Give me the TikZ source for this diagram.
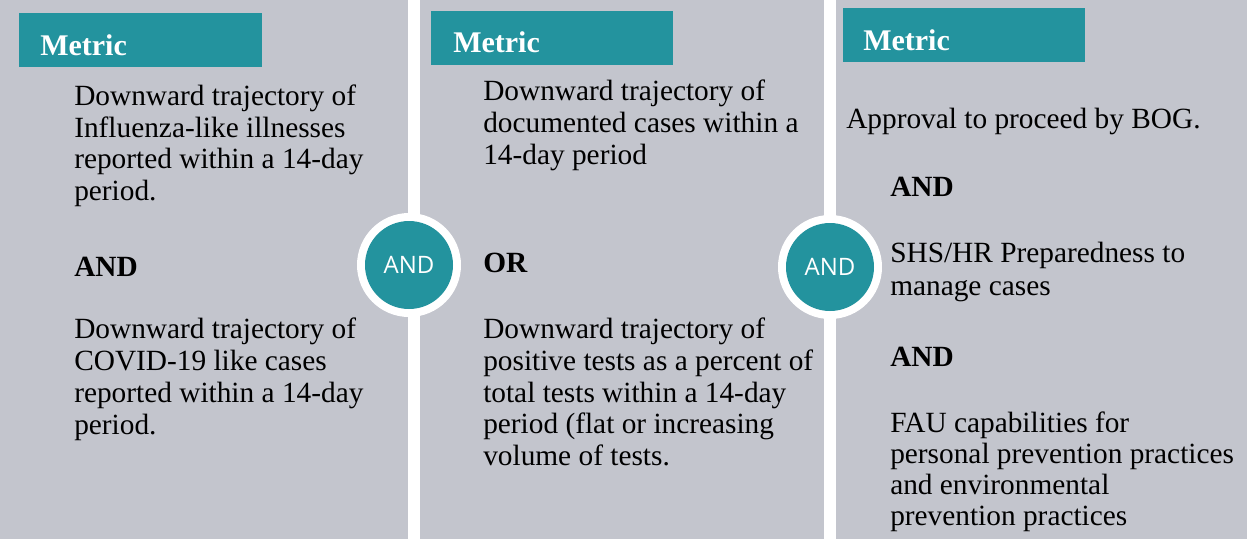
\documentclass[tikz,border=0pt]{standalone}
\usepackage{fontspec}
\setmainfont{Liberation Serif}
\newfontfamily\andfont{Open Sans}
\definecolor{panelgray}{RGB}{195,197,205}
\definecolor{tealc}{RGB}{35,147,158}
\begin{document}
\begin{tikzpicture}[x=0.75pt,y=-0.75pt,
  txt/.style={anchor=base west,inner sep=0pt,font=\fontsize{22}{24}\selectfont},
  boldtxt/.style={anchor=base west,inner sep=0pt,font=\fontsize{22}{24}\selectfont\bfseries},
  metric/.style={anchor=base west,inner sep=0pt,text=white,font=\fontsize{22.5}{24}\selectfont\bfseries},
  panel/.style={fill=panelgray},
  header/.style={fill=tealc},
  ring/.style={circle,fill=white,inner sep=0pt,minimum size=78pt},
  andcirc/.style={circle,fill=tealc,inner sep=0pt,minimum size=66pt,text=white,font=\andfont\fontsize{18}{20}\selectfont}]
\useasboundingbox (0,0) rectangle (1247,544);
\fill[white] (0,0) rectangle (1247,544);
% panels
\fill[panel] (0,0) rectangle (408,539);
\fill[panel] (420,0) rectangle (824,539);
\fill[panel] (836,0) rectangle (1247,539);
% headers
\fill[header] (19,13) rectangle (262,67);
\fill[header] (431,11) rectangle (673,65);
\fill[header] (843,8) rectangle (1085,62);
\node[metric] (m1) at (40,55) {Metric};
\node[metric] (m2) at (453,52) {Metric};
\node[metric] (m3) at (863,50) {Metric};
% panel 1
\node[txt] (p1a) at (74,105) {Downward trajectory of};
\node[txt] (p1b) at (74,137) {Influenza-like illnesses};
\node[txt] (p1c) at (74,168) {reported within a 14-day};
\node[txt] (p1d) at (74,200) {period.};
\node[boldtxt] (p1and) at (74,276) {AND};
\node[txt] (p1e) at (74,338) {Downward trajectory of};
\node[txt] (p1f) at (74,370) {COVID-19 like cases};
\node[txt] (p1g) at (74,402) {reported within a 14-day};
\node[txt] (p1h) at (74,434) {period.};
% panel 2
\node[txt] (p2a) at (483,100) {Downward trajectory of};
\node[txt] (p2b) at (483,132) {documented cases within a};
\node[txt] (p2c) at (483,164) {14-day period};
\node[boldtxt] (p2or) at (483,272) {OR};
\node[txt] (p2d) at (483,338) {Downward trajectory of};
\node[txt] (p2e) at (483,370) {positive tests as a percent of};
\node[txt] (p2f) at (483,402) {total tests within a 14-day};
\node[txt] (p2g) at (483,433) {period (flat or increasing};
\node[txt] (p2h) at (483,465) {volume of tests.};
% panel 3
\node[txt] (p3a) at (846,128) {Approval to proceed by BOG.};
\node[boldtxt] (p3and1) at (890,196) {AND};
\node[txt] (p3b) at (890,262) {SHS/HR Preparedness to};
\node[txt] (p3c) at (890,295) {manage cases};
\node[boldtxt] (p3and2) at (890,366) {AND};
\node[txt] (p3d) at (890,432) {FAU capabilities for};
\node[txt] (p3e) at (890,463) {personal prevention practices};
\node[txt] (p3f) at (890,494) {and environmental};
\node[txt] (p3g) at (890,525) {prevention practices};
% connectors
\node[ring] (r1) at (409,265) {};
\node[andcirc] (c1) at (409,265) {AND};
\node[ring] (r2) at (830,267) {};
\node[andcirc] (c2) at (830,267) {AND};
\end{tikzpicture}
\end{document}
